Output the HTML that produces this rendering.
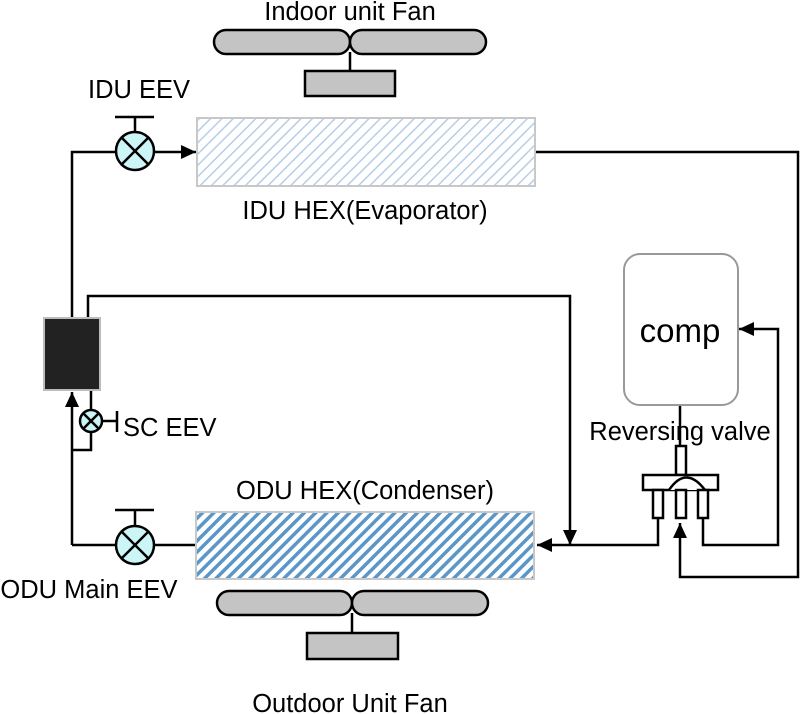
<!DOCTYPE html>
<html><head><meta charset="utf-8"><style>
html,body{margin:0;padding:0;background:#fff}
svg{display:block}
text{font-family:"Liberation Sans",sans-serif;fill:#000}
</style></head><body>
<svg width="800" height="714" viewBox="0 0 800 714" xmlns="http://www.w3.org/2000/svg">
<defs>
<pattern id="h1" patternUnits="userSpaceOnUse" width="8" height="8" patternTransform="rotate(45)">
<rect width="8" height="8" fill="#fff"/><rect width="1.5" height="8" fill="#b8cde6"/></pattern>
<pattern id="h2" patternUnits="userSpaceOnUse" width="8" height="8" patternTransform="rotate(45)">
<rect width="8" height="8" fill="#fff"/><rect width="3.5" height="8" fill="#5b96c8"/></pattern>
<marker id="a" markerWidth="16" markerHeight="16" refX="15" refY="7" orient="auto" markerUnits="userSpaceOnUse">
<path d="M0,0 L15,7 L0,14 z" fill="#000"/></marker>
</defs>
<g stroke="#000" stroke-width="2.5" fill="none">
<rect x="214" y="30" width="136" height="24" rx="12" fill="#c4c4c4"/>
<rect x="350" y="30" width="136" height="24" rx="12" fill="#c4c4c4"/>
<line x1="350" y1="52" x2="350" y2="71"/>
<rect x="305" y="71" width="90" height="25" fill="#c4c4c4"/>
<rect x="217" y="591" width="135" height="24" rx="12" fill="#c4c4c4"/>
<rect x="352" y="591" width="136" height="24" rx="12" fill="#c4c4c4"/>
<line x1="352" y1="613" x2="352" y2="633"/>
<rect x="307" y="633" width="91" height="26" fill="#c4c4c4"/>
<polyline points="72,318 72,152 115,152"/>
<line x1="155" y1="152" x2="196" y2="152" marker-end="url(#a)"/>
<polyline points="535,152 798,152 798,577 680,577 680,523" marker-end="url(#a)"/>
<polyline points="88,318 88,296 570,296 570,545" marker-end="url(#a)"/>
<polyline points="658,518 658,545 537,545" marker-end="url(#a)"/>
<polyline points="703,518 703,545 778,545 778,329 739,329" marker-end="url(#a)"/>
<line x1="680" y1="406" x2="680" y2="446"/>
<polyline points="72,545 115,545"/>
<line x1="155" y1="545" x2="196" y2="545"/>
<polyline points="72,545 72,392" marker-end="url(#a)"/>
<polyline points="91,390 91,410"/>
<polyline points="91,432 91,450 72,450"/>
<line x1="102" y1="421" x2="117" y2="421"/><line x1="117" y1="411" x2="117" y2="432"/>
<line x1="135" y1="117" x2="135" y2="133"/><line x1="115" y1="117" x2="154" y2="117"/>
<circle cx="135" cy="151" r="19" fill="#ccf5f7"/>
<line x1="122" y1="138" x2="148" y2="164"/><line x1="148" y1="138" x2="122" y2="164"/>
<line x1="135" y1="510" x2="135" y2="526"/><line x1="115" y1="510" x2="154" y2="510"/>
<circle cx="135" cy="545" r="19" fill="#ccf5f7"/>
<line x1="122" y1="532" x2="148" y2="558"/><line x1="148" y1="532" x2="122" y2="558"/>
<circle cx="91" cy="421" r="11" fill="#ccf5f7"/>
<line x1="83" y1="413" x2="99" y2="429"/><line x1="99" y1="413" x2="83" y2="429"/>
<rect x="676" y="446" width="10" height="29" fill="#fff"/>
<rect x="643" y="475" width="75" height="15" fill="#fff"/>
<path d="M669,490 Q686,465 705,490" fill="#fff"/>
<rect x="653" y="490" width="10" height="28" fill="#fff"/>
<rect x="676" y="490" width="10" height="28" fill="#fff"/>
<rect x="698" y="490" width="10" height="28" fill="#fff"/>
</g>
<rect x="197" y="118" width="338" height="68" fill="url(#h1)" stroke="#c8c8c8" stroke-width="2"/>
<rect x="196" y="512" width="338" height="67" fill="url(#h2)" stroke="#c8c8c8" stroke-width="2"/>
<rect x="44" y="318" width="56" height="72" fill="#222" stroke="#bbb" stroke-width="2"/>
<rect x="624" y="254" width="114" height="151" rx="16" fill="#fff" stroke="#999" stroke-width="2"/>
<text x="350" y="20" font-size="25.5" text-anchor="middle">Indoor unit Fan</text>
<text x="139" y="98" font-size="25.5" text-anchor="middle">IDU EEV</text>
<text x="365" y="219" font-size="25.5" text-anchor="middle">IDU HEX(Evaporator)</text>
<text x="680" y="342" font-size="33" text-anchor="middle">comp</text>
<text x="680" y="440" font-size="25.5" text-anchor="middle">Reversing valve</text>
<text x="123" y="436" font-size="25.5">SC EEV</text>
<text x="365" y="499" font-size="25.5" text-anchor="middle">ODU HEX(Condenser)</text>
<text x="89" y="598" font-size="25.5" text-anchor="middle">ODU Main EEV</text>
<text x="350" y="712" font-size="25.5" text-anchor="middle">Outdoor Unit Fan</text>
</svg>
</body></html>
